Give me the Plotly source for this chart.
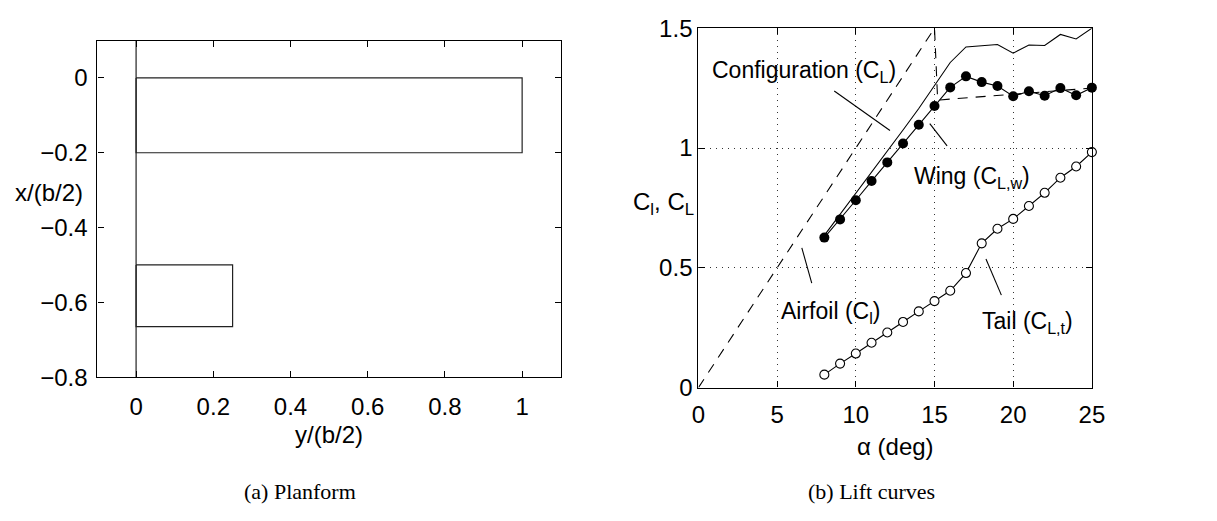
import plotly.graph_objects as go

# ---------------- data ----------------
# (a) planform
wing_span = [0.0, 1.0]          # y/(b/2)
wing_chord = [0.0, -0.2]        # x/(b/2)  (leading, trailing)
tail_span = [0.0, 0.25]
tail_chord = [-0.5, -0.665]
center_x = [-0.8, 0.1]

planform_xticks = [0, 0.2, 0.4, 0.6, 0.8, 1]
planform_xlabels = ["0", "0.2", "0.4", "0.6", "0.8", "1"]
planform_yticks = [0, -0.2, -0.4, -0.6, -0.8]
planform_ylabels = ["0", "\u22120.2", "\u22120.4", "\u22120.6", "\u22120.8"]

# (b) lift curves
alpha = [8, 9, 10, 11, 12, 13, 14, 15, 16, 17, 18, 19, 20, 21, 22, 23, 24, 25]
cl_wing = [0.626, 0.702, 0.782, 0.862, 0.940, 1.019, 1.097, 1.175, 1.253, 1.299,
           1.275, 1.259, 1.216, 1.237, 1.218, 1.250, 1.220, 1.252]
cl_config = [0.635, 0.722, 0.810, 0.900, 0.985, 1.075, 1.165, 1.262, 1.357, 1.422,
             1.428, 1.432, 1.396, 1.430, 1.428, 1.474, 1.455, 1.500]
cl_tail = [0.054, 0.100, 0.142, 0.187, 0.230, 0.274, 0.318, 0.361, 0.404, 0.478,
           0.602, 0.663, 0.704, 0.758, 0.813, 0.876, 0.923, 0.983]
airfoil_alpha = [0, 15, 15.2, 25]
airfoil_cl = [0.0, 1.5, 1.2, 1.25]

lift_xticks = [0, 5, 10, 15, 20, 25]
lift_yticks = [0, 0.5, 1, 1.5]
lift_ylabels = ["0", "0.5", "1", "1.5"]

# annotation labels: text, text position, leader line (alpha pair, cl pair)
labels = ["Configuration (C<sub>L</sub>)", "Wing (C<sub>L,w</sub>)",
          "Airfoil (C<sub>l</sub>)", "Tail (C<sub>L,t</sub>)"]
label_alpha = [6.7, 17.4, 8.4, 20.9]
label_cl = [1.32, 0.875, 0.315, 0.27]
leader_alpha = [[8.63, 12.17], [14.7, 15.8], [6.57, 7.2], [18.27, 19.25]]
leader_cl = [[1.238, 1.073], [1.102, 1.009], [0.583, 0.436], [0.537, 0.386]]

# ---------------- figure ----------------
FONT = "Liberation Sans, Arial, sans-serif"
SERIF = "Liberation Serif, Times New Roman, serif"
LC = "#222"
W, H = 1217, 521

fig = go.Figure()


def rect(span, chord):
    xs = [span[0], span[1], span[1], span[0], span[0]]
    ys = [chord[0], chord[0], chord[1], chord[1], chord[0]]
    return xs, ys


for sp, ch in [(wing_span, wing_chord), (tail_span, tail_chord)]:
    xs, ys = rect(sp, ch)
    fig.add_trace(go.Scatter(x=xs, y=ys, mode="lines", line=dict(color=LC, width=1.2),
                             xaxis="x", yaxis="y", showlegend=False, hoverinfo="skip"))
fig.add_trace(go.Scatter(x=[0, 0], y=center_x, mode="lines", line=dict(color=LC, width=1.2),
                         xaxis="x", yaxis="y", showlegend=False, hoverinfo="skip"))

# lift curves
fig.add_trace(go.Scatter(x=airfoil_alpha, y=airfoil_cl, mode="lines",
                         line=dict(color="black", width=1.1, dash="10px,8px"),
                         xaxis="x2", yaxis="y2", showlegend=False))
fig.add_trace(go.Scatter(x=alpha, y=cl_config, mode="lines",
                         line=dict(color="black", width=1.1),
                         xaxis="x2", yaxis="y2", showlegend=False))
fig.add_trace(go.Scatter(x=alpha, y=cl_wing, mode="lines+markers",
                         line=dict(color="black", width=1.1),
                         marker=dict(symbol="circle", size=10, color="black"),
                         xaxis="x2", yaxis="y2", showlegend=False, cliponaxis=False))
fig.add_trace(go.Scatter(x=alpha, y=cl_tail, mode="lines+markers",
                         line=dict(color="black", width=1.1),
                         marker=dict(symbol="circle", size=9, color="white",
                                     line=dict(color="black", width=1.1)),
                         xaxis="x2", yaxis="y2", showlegend=False, cliponaxis=False))

for la, lc in zip(leader_alpha, leader_cl):
    fig.add_trace(go.Scatter(x=la, y=lc, mode="lines", line=dict(color="black", width=1.1),
                             xaxis="x2", yaxis="y2", showlegend=False, hoverinfo="skip"))

annotations = []
for t, a, c in zip(labels, label_alpha, label_cl):
    annotations.append(dict(text=t, x=a, y=c, xref="x2", yref="y2", showarrow=False,
                            xanchor="center", yanchor="middle",
                            font=dict(family=FONT, size=23, color="black")))


def paper_text(text, px, py, size, family=FONT):
    return dict(text=text, x=px / W, y=1 - py / H, xref="paper", yref="paper",
                showarrow=False, xanchor="center", yanchor="middle",
                font=dict(family=family, size=size, color="black"))


annotations += [
    paper_text("x/(b/2)", 43, 188, 24),
    paper_text("y/(b/2)", 327, 444, 24),
    paper_text("C<sub>l</sub>, C<sub>L</sub>", 667, 200, 24),
    paper_text("\u03b1 (deg)", 903, 456, 24),
    paper_text("(a) Planform", 298, 504, 22, SERIF),
    paper_text("(b) Lift curves", 879, 504, 22, SERIF),
]

axis_common = dict(showline=True, linecolor="black", linewidth=1.3, mirror="ticks",
                   ticks="inside", ticklen=6, tickcolor="black", tickwidth=1,
                   zeroline=False, fixedrange=True)
grid = dict(showgrid=True, gridcolor="#333", gridwidth=1, griddash="1px,5px")

fig.update_layout(
    width=W, height=H,
    margin=dict(l=0, r=0, t=0, b=0),
    paper_bgcolor="white", plot_bgcolor="white",
    showlegend=False,
    annotations=annotations,
    xaxis=dict(domain=[92 / W, 563 / W], range=[-0.1, 1.1], anchor="y",
               tickvals=planform_xticks, ticktext=planform_xlabels, showgrid=False,
               ticklabelstandoff=8,
               tickfont=dict(family=FONT, size=24, color="black"), **axis_common),
    yaxis=dict(domain=[1 - 383 / H, 1 - 28 / H], range=[-0.8, 0.1], anchor="x",
               tickvals=planform_yticks, ticktext=planform_ylabels, showgrid=False,
               ticklabelstandoff=4,
               tickfont=dict(family=FONT, size=24, color="black"), **axis_common),
    xaxis2=dict(domain=[703 / W, 1103 / W], range=[0, 25], anchor="y2",
                tickvals=lift_xticks, ticklabelstandoff=5,
                tickfont=dict(family=FONT, size=24, color="black"),
                **grid, **axis_common),
    yaxis2=dict(domain=[1 - 394 / H, 1 - 15 / H], range=[0, 1.5], anchor="x2",
                tickvals=lift_yticks, ticktext=lift_ylabels,
                tickfont=dict(family=FONT, size=24, color="black"),
                **grid, **axis_common),
)

fig.write_html("out.html")
